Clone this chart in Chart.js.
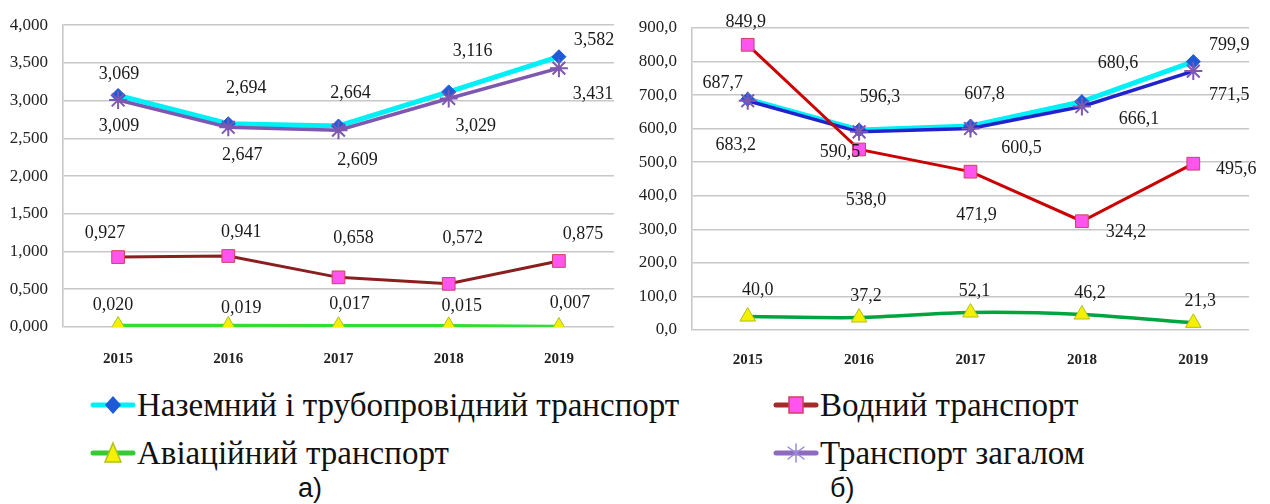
<!DOCTYPE html>
<html>
<head>
<meta charset="utf-8">
<script src="https://cdn.jsdelivr.net/npm/chart.js@4.4.0/dist/chart.umd.min.js"></script>
<style>
  body { margin: 0; background: #fff; width: 1270px; height: 504px; position: relative; overflow: hidden; }
  .box { position: absolute; }
  .leg { position: absolute; font-family: 'Liberation Serif'; font-size: 33px; color: #111; white-space: nowrap; line-height: 34px; }
  .leg canvas { vertical-align: middle; margin-right: 1px; position: relative; top: -3px; }
  .cap { position: absolute; font-family: 'Liberation Sans'; font-size: 27px; color: #111; }
</style>
</head>
<body>
<div class="box" style="left:0;top:0;width:625px;height:370px"><canvas id="chartA"></canvas></div>
<div class="box" style="left:630px;top:0;width:630px;height:370px"><canvas id="chartB"></canvas></div>

<div class="leg" style="left:90px;top:388px"><canvas id="lg1" width="46" height="24"></canvas>Наземний і трубопровідний транспорт</div>
<div class="leg" style="left:773px;top:388px"><canvas id="lg2" width="46" height="24"></canvas>Водний транспорт</div>
<div class="leg" style="left:90px;top:436px"><canvas id="lg3" width="46" height="24"></canvas>Авіаційний транспорт</div>
<div class="leg" style="left:773px;top:436px"><canvas id="lg4" width="46" height="24"></canvas>Транспорт загалом</div>
<div class="cap" style="left:298px;top:473px">а)</div>
<div class="cap" style="left:830px;top:473px">б)</div>

<script>
// years
const years = ['2015', '2016', '2017', '2018', '2019'];

// chart a)
const groundA = [3.069, 2.694, 2.664, 3.116, 3.582];
const totalA  = [3.009, 2.647, 2.609, 3.029, 3.431];
const waterA  = [0.927, 0.941, 0.658, 0.572, 0.875];
const airA    = [0.020, 0.019, 0.017, 0.015, 0.007];

// chart б)
const groundB = [687.7, 596.3, 607.8, 680.6, 799.9];
const totalB  = [683.2, 590.5, 600.5, 666.1, 771.5];
const waterB  = [849.9, 538.0, 471.9, 324.2, 495.6];
const airB    = [40.0, 37.2, 52.1, 46.2, 21.3];

const names = ['Наземний і трубопровідний транспорт', 'Водний транспорт', 'Авіаційний транспорт', 'Транспорт загалом'];

// label offsets (px from the point) for value labels
const offA = {
  ground: [[1,-21],[18,-35],[12,-33],[24,-41],[35,-16]],
  total:  [[1,26],[14,28],[19,30],[27,28],[34,26]],
  water:  [[-13,-24],[13,-24],[15,-39],[14,-46],[24,-27]],
  air:    [[-5,-20],[13,-17],[11,-21],[13,-20],[11,-23]]
};
const offB = {
  ground: [[-25,-16],[21,-33],[14,-32],[36,-38],[36,-16]],
  total:  [[-12,45],[-19,20],[51,20],[57,13],[36,24]],
  water:  [[-2,-23],[7,51],[6,44],[44,11],[43,6]],
  air:    [[10,-26],[7,-21],[4,-21],[8,-21],[7,-22]]
};

const serif = "'Liberation Serif'";

// draws value labels next to points
const valueLabels = {
  id: 'valueLabels',
  afterDatasetsDraw(chart) {
    const ctx = chart.ctx;
    const dec = chart.options.plugins.valueLabels.decimals;
    ctx.save();
    ctx.font = '18px ' + serif;
    ctx.fillStyle = '#1a1a1a';
    ctx.textAlign = 'center';
    ctx.textBaseline = 'middle';
    chart.data.datasets.forEach((ds, i) => {
      const meta = chart.getDatasetMeta(i);
      meta.data.forEach((pt, j) => {
        const o = ds.labelOffsets[j];
        ctx.fillText(ds.data[j].toFixed(dec).replace('.', ','), pt.x + o[0], pt.y + o[1]);
      });
    });
    ctx.restore();
  }
};

function makeChart(id, sets, yMax, yStep, dec, yWidth, padR, padT, xHeight, xPad) {
  return new Chart(document.getElementById(id), {
    type: 'line',
    data: { labels: years, datasets: sets },
    options: {
      responsive: true,
      maintainAspectRatio: false,
      animation: false,
      layout: { padding: { left: 0, right: padR, top: padT, bottom: 0 } },
      plugins: {
        legend: { display: false },
        tooltip: { enabled: false },
        valueLabels: { decimals: dec }
      },
      scales: {
        x: {
          offset: true,
          grid: { display: false, drawTicks: false },
          border: { display: false },
          ticks: { color: '#222', padding: xPad, font: { family: serif, size: 15, weight: 'bold' } },
          afterFit(s) { s.height = xHeight; }
        },
        y: {
          min: 0, max: yMax,
          grid: { color: '#c8c8c8', lineWidth: 1.6, drawTicks: false },
          border: { display: true, color: '#c8c8c8', width: 1.6 },
          ticks: {
            stepSize: yStep, color: '#222', padding: 15,
            font: { family: serif, size: 17 },
            callback: v => v.toFixed(dec).replace('.', ',')
          },
          afterFit(s) { s.width = yWidth; }
        }
      }
    },
    plugins: [valueLabels]
  });
}

function ds(label, data, line, lw, style, radius, fill, stroke, offs, order, tension) {
  return {
    label: label, data: data, borderColor: line, borderWidth: lw,
    pointStyle: style, pointRadius: radius, pointBackgroundColor: fill,
    pointBorderColor: stroke, pointBorderWidth: style === 'star' ? 2 : 1,
    labelOffsets: offs, order: order, tension: tension || 0
  };
}

makeChart('chartA', [
  ds(names[3], totalA, '#7e57b0', 3.5, 'star', 9, '#7e57b0', '#7e57b0', offA.total, 1),
  ds(names[0], groundA, '#00f0f8', 5, 'rectRot', 7, '#1e5ad8', '#1e5ad8', offA.ground, 2),
  ds(names[1], waterA, '#8b1f1f', 3, 'rect', 9, '#ff55ee', '#d04060', offA.water, 3),
  ds(names[2], airA, '#33dd33', 3.5, 'triangle', 9, '#f4f000', '#b0c020', offA.air, 4)
], 4, 0.5, 3, 63, 8, 22, 43, 23);

makeChart('chartB', [
  ds(names[1], waterB, '#cc0000', 3, 'rect', 9, '#ff55ee', '#d04060', offB.water, 1),
  ds(names[3], totalB, '#2222cc', 3.5, 'star', 9, '#7e57b0', '#7e57b0', offB.total, 2),
  ds(names[0], groundB, '#00f0f8', 5, 'rectRot', 7, '#1e5ad8', '#1e5ad8', offB.ground, 3),
  ds(names[2], airB, '#00a540', 3.5, 'triangle', 9, '#f4f000', '#b0c020', offB.air, 4, 0.3)
], 900, 100, 1, 62, 7, 28, 40, 21);

// legend markers
function legendMark(id, line, style, fill, stroke) {
  const c = document.getElementById(id).getContext('2d');
  c.strokeStyle = line; c.lineWidth = 5; c.lineCap = 'round';
  c.beginPath(); c.moveTo(3, 12); c.lineTo(43, 12); c.stroke();
  c.fillStyle = fill; c.strokeStyle = stroke; c.lineWidth = 1.5;
  c.beginPath();
  if (style === 'diamond') { c.moveTo(23, 3); c.lineTo(31, 12); c.lineTo(23, 21); c.lineTo(15, 12); c.closePath(); c.fill(); }
  if (style === 'square') { c.rect(16, 4, 14, 16); c.fill(); c.stroke(); }
  if (style === 'triangle') { c.moveTo(23, 2); c.lineTo(31, 21); c.lineTo(15, 21); c.closePath(); c.fill(); c.stroke(); }
  if (style === 'star') {
    c.lineWidth = 1.5;
    [[23,3,23,21],[15,6,31,18],[15,18,31,6]].forEach(p => { c.moveTo(p[0],p[1]); c.lineTo(p[2],p[3]); });
    c.stroke();
  }
}
legendMark('lg1', '#00f0f8', 'diamond', '#1e5ad8', '#1e5ad8');
legendMark('lg2', '#a52a2a', 'square', '#ff55ee', '#d04060');
legendMark('lg3', '#33cc33', 'triangle', '#f4f000', '#b0c020');
legendMark('lg4', '#8e6bbf', 'star', '#fff', '#9b8bd8');
</script>
</body>
</html>
